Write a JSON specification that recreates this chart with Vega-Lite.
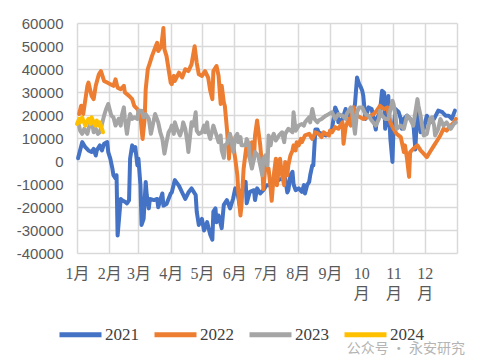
{
"$schema": "https://vega.github.io/schema/vega-lite/v6.json",
"width": 380, "height": 230,
"autosize": {"type": "none"},
"padding": {"left": 77, "top": 23, "right": 24, "bottom": 111},
"background": "white",
"config": {"view": {"stroke": null}},
"title": {"text": "公众号 · 永安研究", "orient": "bottom", "anchor": "end", "frame": "group", "font": "Noto Sans CJK SC", "fontSize": 14, "fontWeight": "normal", "color": "#B4B4B4", "offset": -3, "dx": 8},
"data": {"values": [
{"year":"2021","day":2,"value":1200},{"year":"2021","day":6,"value":8200},{"year":"2021","day":9,"value":6000},{"year":"2021","day":12,"value":4600},{"year":"2021","day":15,"value":3900},{"year":"2021","day":17,"value":5300},{"year":"2021","day":19,"value":2400},{"year":"2021","day":20,"value":4600},{"year":"2021","day":23,"value":6800},{"year":"2021","day":25,"value":4600},{"year":"2021","day":27,"value":7500},{"year":"2021","day":30,"value":8200},{"year":"2021","day":31,"value":3900},{"year":"2021","day":33,"value":1000},{"year":"2021","day":35,"value":-3300},{"year":"2021","day":36,"value":-6200},{"year":"2021","day":38,"value":-7600},{"year":"2021","day":39,"value":-6200},{"year":"2021","day":40,"value":-32400},{"year":"2021","day":43,"value":-16500},{"year":"2021","day":44,"value":-17000},{"year":"2021","day":47,"value":-17700},{"year":"2021","day":49,"value":-18400},{"year":"2021","day":51,"value":-17000},{"year":"2021","day":52,"value":1000},{"year":"2021","day":54,"value":6800},{"year":"2021","day":55,"value":4600},{"year":"2021","day":57,"value":6000},{"year":"2021","day":59,"value":-1900},{"year":"2021","day":60,"value":1000},{"year":"2021","day":62,"value":-10800},{"year":"2021","day":63,"value":-27800},{"year":"2021","day":65,"value":-25200},{"year":"2021","day":67,"value":-9100},{"year":"2021","day":68,"value":-14800},{"year":"2021","day":70,"value":-20600},{"year":"2021","day":71,"value":-16500},{"year":"2021","day":75,"value":-17000},{"year":"2021","day":78,"value":-16500},{"year":"2021","day":79,"value":-20100},{"year":"2021","day":81,"value":-17000},{"year":"2021","day":83,"value":-14100},{"year":"2021","day":84,"value":-19400},{"year":"2021","day":87,"value":-18700},{"year":"2021","day":91,"value":-14100},{"year":"2021","day":92,"value":-13700},{"year":"2021","day":95,"value":-8300},{"year":"2021","day":99,"value":-10800},{"year":"2021","day":102,"value":-13700},{"year":"2021","day":105,"value":-16500},{"year":"2021","day":108,"value":-13700},{"year":"2021","day":111,"value":-11900},{"year":"2021","day":115,"value":-14800},{"year":"2021","day":116,"value":-22000},{"year":"2021","day":118,"value":-27800},{"year":"2021","day":121,"value":-25200},{"year":"2021","day":123,"value":-30200},{"year":"2021","day":126,"value":-26600},{"year":"2021","day":129,"value":-32100},{"year":"2021","day":131,"value":-34200},{"year":"2021","day":132,"value":-22000},{"year":"2021","day":134,"value":-20600},{"year":"2021","day":135,"value":-26600},{"year":"2021","day":137,"value":-23700},{"year":"2021","day":140,"value":-29200},{"year":"2021","day":142,"value":-19100},{"year":"2021","day":145,"value":-17000},{"year":"2021","day":148,"value":-20600},{"year":"2021","day":151,"value":-16300},{"year":"2021","day":153,"value":-11900},{"year":"2021","day":155,"value":-13400},{"year":"2021","day":158,"value":-21300},{"year":"2021","day":159,"value":-13400},{"year":"2021","day":163,"value":-9100},{"year":"2021","day":164,"value":-18400},{"year":"2021","day":167,"value":-13400},{"year":"2021","day":171,"value":-12700},{"year":"2021","day":172,"value":-17000},{"year":"2021","day":174,"value":-11900},{"year":"2021","day":177,"value":-14100},{"year":"2021","day":180,"value":-12700},{"year":"2021","day":183,"value":-10500},{"year":"2021","day":187,"value":-10500},{"year":"2021","day":192,"value":-9100},{"year":"2021","day":196,"value":-7900},{"year":"2021","day":201,"value":-7600},{"year":"2021","day":203,"value":-13700},{"year":"2021","day":204,"value":-12700},{"year":"2021","day":206,"value":-6200},{"year":"2021","day":208,"value":-4700},{"year":"2021","day":209,"value":-10100},{"year":"2021","day":211,"value":-12700},{"year":"2021","day":214,"value":-11900},{"year":"2021","day":217,"value":-13400},{"year":"2021","day":219,"value":-10500},{"year":"2021","day":220,"value":-14100},{"year":"2021","day":222,"value":-10500},{"year":"2021","day":224,"value":-9100},{"year":"2021","day":225,"value":-6200},{"year":"2021","day":227,"value":-1900},{"year":"2021","day":228,"value":-1900},{"year":"2021","day":230,"value":13700},{"year":"2021","day":232,"value":13700},{"year":"2021","day":233,"value":12500},{"year":"2021","day":236,"value":11800},{"year":"2021","day":240,"value":11100},{"year":"2021","day":243,"value":11800},{"year":"2021","day":246,"value":14000},{"year":"2021","day":249,"value":23300},{"year":"2021","day":251,"value":21200},{"year":"2021","day":252,"value":16800},{"year":"2021","day":256,"value":18300},{"year":"2021","day":259,"value":22600},{"year":"2021","day":260,"value":19700},{"year":"2021","day":262,"value":20400},{"year":"2021","day":265,"value":18300},{"year":"2021","day":268,"value":24700},{"year":"2021","day":270,"value":36300},{"year":"2021","day":272,"value":33400},{"year":"2021","day":273,"value":32700},{"year":"2021","day":275,"value":30500},{"year":"2021","day":276,"value":28300},{"year":"2021","day":278,"value":18300},{"year":"2021","day":281,"value":23300},{"year":"2021","day":284,"value":22600},{"year":"2021","day":288,"value":13700},{"year":"2021","day":289,"value":18300},{"year":"2021","day":292,"value":21200},{"year":"2021","day":294,"value":30500},{"year":"2021","day":296,"value":29800},{"year":"2021","day":297,"value":14000},{"year":"2021","day":299,"value":18300},{"year":"2021","day":300,"value":28300},{"year":"2021","day":302,"value":9600},{"year":"2021","day":304,"value":-400},{"year":"2021","day":305,"value":14000},{"year":"2021","day":307,"value":22600},{"year":"2021","day":310,"value":21200},{"year":"2021","day":312,"value":18300},{"year":"2021","day":313,"value":14000},{"year":"2021","day":315,"value":18300},{"year":"2021","day":318,"value":19700},{"year":"2021","day":321,"value":18300},{"year":"2021","day":324,"value":16800},{"year":"2021","day":326,"value":5000},{"year":"2021","day":328,"value":24000},{"year":"2021","day":331,"value":12500},{"year":"2021","day":334,"value":14000},{"year":"2021","day":337,"value":19700},{"year":"2021","day":340,"value":16800},{"year":"2021","day":344,"value":18300},{"year":"2021","day":348,"value":21900},{"year":"2021","day":352,"value":21200},{"year":"2021","day":355,"value":19700},{"year":"2021","day":358,"value":19700},{"year":"2021","day":361,"value":18300},{"year":"2021","day":364,"value":21900},
{"year":"2022","day":3,"value":20400},{"year":"2022","day":5,"value":24000},{"year":"2022","day":7,"value":20400},{"year":"2022","day":11,"value":32700},{"year":"2022","day":12,"value":34100},{"year":"2022","day":15,"value":28300},{"year":"2022","day":17,"value":26900},{"year":"2022","day":19,"value":32700},{"year":"2022","day":22,"value":37700},{"year":"2022","day":24,"value":39100},{"year":"2022","day":27,"value":34800},{"year":"2022","day":30,"value":34100},{"year":"2022","day":33,"value":33400},{"year":"2022","day":36,"value":32700},{"year":"2022","day":38,"value":35500},{"year":"2022","day":40,"value":31900},{"year":"2022","day":43,"value":31200},{"year":"2022","day":46,"value":32700},{"year":"2022","day":47,"value":29800},{"year":"2022","day":51,"value":28300},{"year":"2022","day":54,"value":26900},{"year":"2022","day":56,"value":24000},{"year":"2022","day":59,"value":22600},{"year":"2022","day":62,"value":19700},{"year":"2022","day":63,"value":14000},{"year":"2022","day":64,"value":9600},{"year":"2022","day":66,"value":18300},{"year":"2022","day":67,"value":31200},{"year":"2022","day":69,"value":39900},{"year":"2022","day":71,"value":42700},{"year":"2022","day":73,"value":45600},{"year":"2022","day":76,"value":49200},{"year":"2022","day":78,"value":51400},{"year":"2022","day":79,"value":47800},{"year":"2022","day":82,"value":49900},{"year":"2022","day":84,"value":57800},{"year":"2022","day":85,"value":48500},{"year":"2022","day":87,"value":45600},{"year":"2022","day":91,"value":34100},{"year":"2022","day":92,"value":33400},{"year":"2022","day":94,"value":37000},{"year":"2022","day":95,"value":34800},{"year":"2022","day":99,"value":38400},{"year":"2022","day":102,"value":36300},{"year":"2022","day":105,"value":39900},{"year":"2022","day":108,"value":39100},{"year":"2022","day":111,"value":42000},{"year":"2022","day":114,"value":49900},{"year":"2022","day":116,"value":42700},{"year":"2022","day":118,"value":37700},{"year":"2022","day":121,"value":37000},{"year":"2022","day":124,"value":39100},{"year":"2022","day":127,"value":36300},{"year":"2022","day":129,"value":30500},{"year":"2022","day":131,"value":26900},{"year":"2022","day":132,"value":39100},{"year":"2022","day":135,"value":41300},{"year":"2022","day":137,"value":37000},{"year":"2022","day":139,"value":24800},{"year":"2022","day":140,"value":32700},{"year":"2022","day":142,"value":25500},{"year":"2022","day":143,"value":24000},{"year":"2022","day":145,"value":14000},{"year":"2022","day":147,"value":1000},{"year":"2022","day":148,"value":11100},{"year":"2022","day":151,"value":6800},{"year":"2022","day":153,"value":1000},{"year":"2022","day":155,"value":-6200},{"year":"2022","day":156,"value":-13700},{"year":"2022","day":158,"value":-23700},{"year":"2022","day":159,"value":-19400},{"year":"2022","day":161,"value":-3600},{"year":"2022","day":163,"value":3900},{"year":"2022","day":164,"value":6800},{"year":"2022","day":167,"value":1000},{"year":"2022","day":169,"value":8200},{"year":"2022","day":171,"value":1000},{"year":"2022","day":172,"value":11100},{"year":"2022","day":174,"value":17600},{"year":"2022","day":175,"value":14000},{"year":"2022","day":177,"value":6800},{"year":"2022","day":179,"value":-3300},{"year":"2022","day":180,"value":-12200},{"year":"2022","day":182,"value":-1900},{"year":"2022","day":185,"value":-3300},{"year":"2022","day":187,"value":-11900},{"year":"2022","day":188,"value":-17300},{"year":"2022","day":190,"value":-6200},{"year":"2022","day":192,"value":1000},{"year":"2022","day":193,"value":-10500},{"year":"2022","day":195,"value":-2600},{"year":"2022","day":196,"value":1000},{"year":"2022","day":198,"value":-6200},{"year":"2022","day":200,"value":-10500},{"year":"2022","day":201,"value":-400},{"year":"2022","day":203,"value":-6200},{"year":"2022","day":204,"value":-1900},{"year":"2022","day":206,"value":2400},{"year":"2022","day":208,"value":4600},{"year":"2022","day":209,"value":6800},{"year":"2022","day":211,"value":4600},{"year":"2022","day":212,"value":8200},{"year":"2022","day":214,"value":6800},{"year":"2022","day":216,"value":9600},{"year":"2022","day":217,"value":8200},{"year":"2022","day":220,"value":11100},{"year":"2022","day":224,"value":11800},{"year":"2022","day":227,"value":9600},{"year":"2022","day":230,"value":12500},{"year":"2022","day":233,"value":11800},{"year":"2022","day":236,"value":10400},{"year":"2022","day":238,"value":12500},{"year":"2022","day":240,"value":11800},{"year":"2022","day":243,"value":11100},{"year":"2022","day":244,"value":13200},{"year":"2022","day":246,"value":12500},{"year":"2022","day":249,"value":14700},{"year":"2022","day":252,"value":14000},{"year":"2022","day":256,"value":16800},{"year":"2022","day":257,"value":7500},{"year":"2022","day":259,"value":14700},{"year":"2022","day":262,"value":18300},{"year":"2022","day":264,"value":15400},{"year":"2022","day":265,"value":21200},{"year":"2022","day":267,"value":23300},{"year":"2022","day":270,"value":19700},{"year":"2022","day":273,"value":19000},{"year":"2022","day":276,"value":18300},{"year":"2022","day":280,"value":19000},{"year":"2022","day":283,"value":19700},{"year":"2022","day":286,"value":20400},{"year":"2022","day":289,"value":21900},{"year":"2022","day":292,"value":24000},{"year":"2022","day":296,"value":22600},{"year":"2022","day":299,"value":23300},{"year":"2022","day":302,"value":16800},{"year":"2022","day":305,"value":14000},{"year":"2022","day":308,"value":11800},{"year":"2022","day":312,"value":10400},{"year":"2022","day":315,"value":3900},{"year":"2022","day":316,"value":6800},{"year":"2022","day":318,"value":1000},{"year":"2022","day":320,"value":-6900},{"year":"2022","day":321,"value":3900},{"year":"2022","day":324,"value":5300},{"year":"2022","day":328,"value":6800},{"year":"2022","day":331,"value":4600},{"year":"2022","day":334,"value":3200},{"year":"2022","day":337,"value":1700},{"year":"2022","day":340,"value":3900},{"year":"2022","day":344,"value":6800},{"year":"2022","day":347,"value":8900},{"year":"2022","day":350,"value":11100},{"year":"2022","day":353,"value":14000},{"year":"2022","day":356,"value":13200},{"year":"2022","day":360,"value":15400},{"year":"2022","day":363,"value":16800},{"year":"2022","day":365,"value":18300},
{"year":"2023","day":3,"value":15400},{"year":"2023","day":4,"value":13200},{"year":"2023","day":6,"value":11800},{"year":"2023","day":8,"value":14000},{"year":"2023","day":11,"value":11800},{"year":"2023","day":13,"value":15400},{"year":"2023","day":15,"value":18300},{"year":"2023","day":17,"value":12500},{"year":"2023","day":19,"value":14000},{"year":"2023","day":21,"value":11800},{"year":"2023","day":23,"value":12500},{"year":"2023","day":27,"value":19700},{"year":"2023","day":29,"value":22600},{"year":"2023","day":31,"value":24800},{"year":"2023","day":34,"value":19700},{"year":"2023","day":36,"value":19000},{"year":"2023","day":38,"value":15400},{"year":"2023","day":41,"value":18300},{"year":"2023","day":43,"value":15400},{"year":"2023","day":44,"value":19700},{"year":"2023","day":46,"value":23300},{"year":"2023","day":47,"value":18300},{"year":"2023","day":49,"value":11800},{"year":"2023","day":51,"value":18300},{"year":"2023","day":52,"value":20400},{"year":"2023","day":54,"value":18300},{"year":"2023","day":56,"value":19000},{"year":"2023","day":59,"value":18300},{"year":"2023","day":60,"value":21900},{"year":"2023","day":63,"value":21900},{"year":"2023","day":65,"value":19000},{"year":"2023","day":67,"value":20400},{"year":"2023","day":70,"value":18300},{"year":"2023","day":72,"value":11800},{"year":"2023","day":75,"value":18300},{"year":"2023","day":76,"value":20400},{"year":"2023","day":79,"value":16800},{"year":"2023","day":81,"value":12500},{"year":"2023","day":83,"value":9600},{"year":"2023","day":85,"value":3200},{"year":"2023","day":87,"value":8200},{"year":"2023","day":89,"value":12500},{"year":"2023","day":91,"value":14000},{"year":"2023","day":92,"value":15400},{"year":"2023","day":94,"value":11800},{"year":"2023","day":95,"value":16800},{"year":"2023","day":97,"value":14000},{"year":"2023","day":100,"value":11100},{"year":"2023","day":102,"value":14000},{"year":"2023","day":103,"value":16800},{"year":"2023","day":105,"value":14000},{"year":"2023","day":107,"value":8200},{"year":"2023","day":108,"value":3900},{"year":"2023","day":110,"value":12500},{"year":"2023","day":111,"value":16800},{"year":"2023","day":113,"value":15400},{"year":"2023","day":115,"value":21200},{"year":"2023","day":116,"value":13200},{"year":"2023","day":118,"value":11800},{"year":"2023","day":121,"value":12500},{"year":"2023","day":123,"value":15400},{"year":"2023","day":124,"value":12500},{"year":"2023","day":126,"value":16800},{"year":"2023","day":127,"value":12500},{"year":"2023","day":129,"value":9600},{"year":"2023","day":132,"value":15400},{"year":"2023","day":134,"value":12500},{"year":"2023","day":135,"value":11100},{"year":"2023","day":137,"value":8200},{"year":"2023","day":139,"value":11100},{"year":"2023","day":140,"value":4600},{"year":"2023","day":142,"value":1400},{"year":"2023","day":143,"value":6800},{"year":"2023","day":145,"value":7500},{"year":"2023","day":147,"value":10400},{"year":"2023","day":148,"value":11800},{"year":"2023","day":150,"value":6800},{"year":"2023","day":151,"value":3900},{"year":"2023","day":153,"value":10400},{"year":"2023","day":155,"value":11800},{"year":"2023","day":156,"value":8200},{"year":"2023","day":158,"value":10400},{"year":"2023","day":159,"value":6800},{"year":"2023","day":163,"value":6800},{"year":"2023","day":164,"value":9600},{"year":"2023","day":166,"value":7500},{"year":"2023","day":167,"value":1000},{"year":"2023","day":169,"value":-3300},{"year":"2023","day":171,"value":1000},{"year":"2023","day":172,"value":3900},{"year":"2023","day":175,"value":2400},{"year":"2023","day":177,"value":-1900},{"year":"2023","day":179,"value":-6200},{"year":"2023","day":180,"value":1000},{"year":"2023","day":182,"value":2400},{"year":"2023","day":184,"value":-1900},{"year":"2023","day":185,"value":11100},{"year":"2023","day":187,"value":6800},{"year":"2023","day":188,"value":9600},{"year":"2023","day":190,"value":11800},{"year":"2023","day":192,"value":8900},{"year":"2023","day":195,"value":11100},{"year":"2023","day":198,"value":12500},{"year":"2023","day":200,"value":8200},{"year":"2023","day":201,"value":11800},{"year":"2023","day":204,"value":14000},{"year":"2023","day":208,"value":12500},{"year":"2023","day":209,"value":21200},{"year":"2023","day":211,"value":13200},{"year":"2023","day":214,"value":15400},{"year":"2023","day":217,"value":16100},{"year":"2023","day":219,"value":15400},{"year":"2023","day":220,"value":16800},{"year":"2023","day":224,"value":19000},{"year":"2023","day":225,"value":16800},{"year":"2023","day":227,"value":22600},{"year":"2023","day":229,"value":18300},{"year":"2023","day":232,"value":16800},{"year":"2023","day":233,"value":17600},{"year":"2023","day":236,"value":18300},{"year":"2023","day":240,"value":19700},{"year":"2023","day":243,"value":20400},{"year":"2023","day":246,"value":21200},{"year":"2023","day":249,"value":18300},{"year":"2023","day":252,"value":20400},{"year":"2023","day":256,"value":19700},{"year":"2023","day":259,"value":18300},{"year":"2023","day":260,"value":20400},{"year":"2023","day":264,"value":23300},{"year":"2023","day":265,"value":22600},{"year":"2023","day":268,"value":11800},{"year":"2023","day":270,"value":21200},{"year":"2023","day":272,"value":23300},{"year":"2023","day":275,"value":23300},{"year":"2023","day":278,"value":20400},{"year":"2023","day":281,"value":19700},{"year":"2023","day":284,"value":17600},{"year":"2023","day":288,"value":15400},{"year":"2023","day":291,"value":18300},{"year":"2023","day":292,"value":21900},{"year":"2023","day":294,"value":19700},{"year":"2023","day":297,"value":18300},{"year":"2023","day":300,"value":18300},{"year":"2023","day":304,"value":26200},{"year":"2023","day":305,"value":24800},{"year":"2023","day":307,"value":19700},{"year":"2023","day":308,"value":14000},{"year":"2023","day":312,"value":15400},{"year":"2023","day":315,"value":14000},{"year":"2023","day":318,"value":19700},{"year":"2023","day":321,"value":18300},{"year":"2023","day":324,"value":15400},{"year":"2023","day":328,"value":26900},{"year":"2023","day":329,"value":24000},{"year":"2023","day":331,"value":19700},{"year":"2023","day":334,"value":11100},{"year":"2023","day":337,"value":11800},{"year":"2023","day":340,"value":18300},{"year":"2023","day":342,"value":19000},{"year":"2023","day":344,"value":15400},{"year":"2023","day":345,"value":11100},{"year":"2023","day":348,"value":14000},{"year":"2023","day":350,"value":18300},{"year":"2023","day":353,"value":15400},{"year":"2023","day":356,"value":16800},{"year":"2023","day":360,"value":14000},{"year":"2023","day":363,"value":16100},{"year":"2023","day":365,"value":16800},
{"year":"2024","day":1,"value":16100},{"year":"2024","day":3,"value":18300},{"year":"2024","day":4,"value":16800},{"year":"2024","day":6,"value":19000},{"year":"2024","day":7,"value":17600},{"year":"2024","day":9,"value":15400},{"year":"2024","day":11,"value":17600},{"year":"2024","day":12,"value":18300},{"year":"2024","day":14,"value":16100},{"year":"2024","day":15,"value":19000},{"year":"2024","day":17,"value":16800},{"year":"2024","day":19,"value":15400},{"year":"2024","day":20,"value":17600},{"year":"2024","day":22,"value":15400},{"year":"2024","day":23,"value":16800},{"year":"2024","day":25,"value":14000},{"year":"2024","day":26,"value":12500}
]},
"mark": {"type": "line", "strokeWidth": 4, "strokeJoin": "round", "strokeCap": "round"},
"encoding": {
"x": {"field": "day", "type": "quantitative", "scale": {"domain": [1, 366], "nice": false, "zero": false},
 "axis": {"title": null, "values": [1,32,60,91,121,152,182,213,244,274,305,335,366], "grid": true, "gridColor": "#D9D9D9", "gridWidth": 1.5, "domain": false, "ticks": false, "labelPadding": 12, "labelFontSize": 16, "labelColor": "#595959", "labelFont": "Liberation Serif, Times New Roman, Noto Sans CJK SC", "labelBaseline": "top", "labelLineHeight": 20, "labelFlush": false, "labelOverlap": false, "labelBound": false,
 "labelExpr": "indexof([1,32,60,91,121,152,182,213,244,274,305,335], datum.value) < 0 ? '' : (indexof([1,32,60,91,121,152,182,213,244,274,305,335], datum.value) >= 9 ? [toString(indexof([1,32,60,91,121,152,182,213,244,274,305,335], datum.value) + 1), '月'] : toString(indexof([1,32,60,91,121,152,182,213,244,274,305,335], datum.value) + 1) + '月')"}},
"y": {"field": "value", "type": "quantitative", "scale": {"domain": [-40000, 60000], "nice": false, "zero": false},
 "axis": {"title": null, "values": [-40000,-30000,-20000,-10000,0,10000,20000,30000,40000,50000,60000], "grid": true, "gridColor": "#D9D9D9", "gridWidth": 1.5, "domain": false, "ticks": false, "labelPadding": 14, "labelFontSize": 15, "labelColor": "#595959", "labelFont": "Liberation Sans", "labelExpr": "datum.value + ''"}},
"color": {"field": "year", "type": "nominal", "scale": {"domain": ["2021","2022","2023","2024"], "range": ["#4472C4","#ED7D31","#A5A5A5","#FFC000"]},
 "legend": {"title": null, "orient": "none", "legendX": -20, "legendY": 288, "direction": "horizontal", "symbolType": "stroke", "symbolSize": 1764, "symbolStrokeWidth": 5, "labelFontSize": 17, "labelColor": "#404040", "labelFont": "Liberation Serif, Times New Roman", "columnPadding": 5, "labelOffset": 1, "padding": 0}}
}
}
